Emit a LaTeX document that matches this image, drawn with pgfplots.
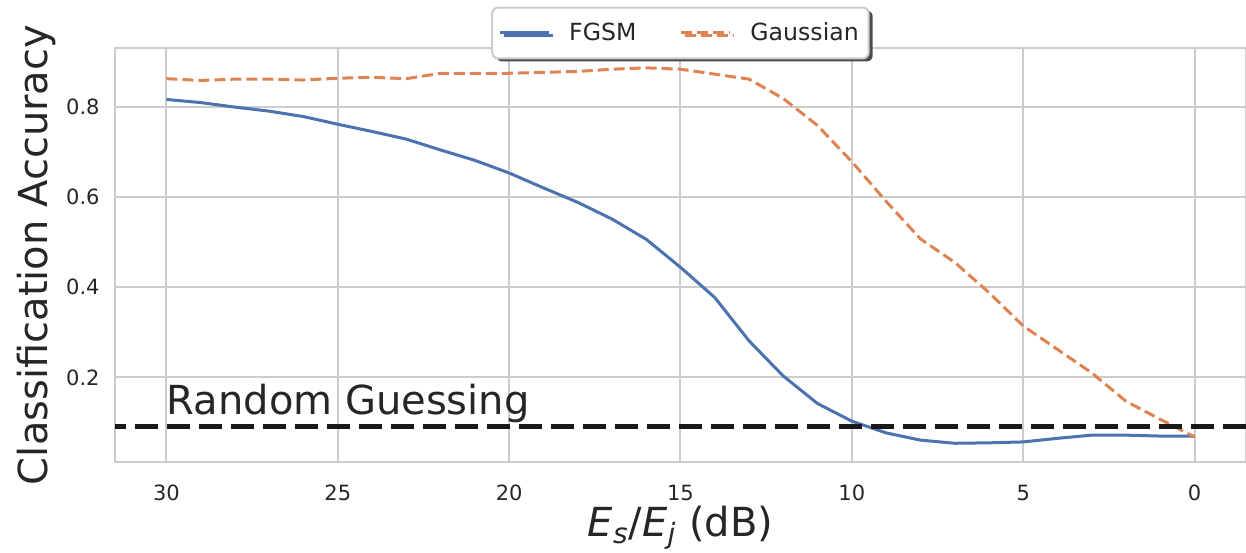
\documentclass[border=0pt]{standalone}
\usepackage{fontspec}
\setmainfont{DejaVu Sans}
\usepackage{pgfplots}
\usepackage{pgfplotstable}
\pgfplotsset{compat=1.18}
\usetikzlibrary{shadows,calc}

\definecolor{sbblue}{HTML}{4C72B0}
\definecolor{sborange}{HTML}{DD8452}
\definecolor{gridgray}{HTML}{CCCCCC}
\definecolor{txt}{HTML}{262626}

% accuracy vs. Es/Ej (dB)
\pgfplotstableread{
snr fgsm gauss
30 0.816 0.862
29 0.809 0.858
28 0.799 0.861
27 0.790 0.861
26 0.778 0.859
25 0.761 0.863
24 0.745 0.865
23 0.728 0.862
22 0.704 0.874
21 0.681 0.874
20 0.653 0.874
19 0.620 0.876
18 0.588 0.878
17 0.551 0.883
16 0.506 0.886
15 0.444 0.883
14 0.377 0.872
13 0.281 0.861
12 0.203 0.818
11 0.142 0.758
10 0.103 0.678
9 0.077 0.590
8 0.061 0.507
7 0.054 0.455
6 0.055 0.388
5 0.057 0.314
4 0.065 0.262
3 0.072 0.210
2 0.072 0.147
1 0.070 0.107
0 0.070 0.068
}\datatable

\begin{document}
\begin{tikzpicture}
\begin{axis}[
  scale only axis,
  width=565.5pt, height=207pt,
  x dir=reverse,
  xmin=-1.5, xmax=31.5,
  ymin=0.0125, ymax=0.930,
  xtick={0,5,10,15,20,25,30},
  ytick={0.2,0.4,0.6,0.8},
  yticklabel style={/pgf/number format/fixed, /pgf/number format/precision=1},
  /pgf/number format/assume math mode=true,
  major tick length=0pt,
  grid=major,
  major grid style={gridgray, line width=1pt},
  axis line style={gridgray, line width=1.25pt},
  tick label style={font=\fontsize{10.5}{12}\selectfont, text=txt, inner sep=0pt},
  xticklabel style={anchor=north, yshift=-11.5pt},
  yticklabel style={anchor=east, xshift=-7.5pt},
  xlabel={{\itshape E}\textsubscript{\itshape s}/{\itshape E}\textsubscript{\itshape j} (dB)},
  ylabel={Classification Accuracy},
  label style={font=\fontsize{20}{24}\selectfont, text=txt, inner sep=0pt},
  xlabel style={at={(axis description cs:0.5,0)}, anchor=north, yshift=-22pt},
  ylabel style={at={(axis description cs:-0.0517,0.5)}, anchor=south},
  legend columns=2,
  legend image code/.code={\draw[#1] (0pt,0pt) -- (24.5pt,0pt); \path (32pt,0pt);},
  legend style={
    at={(axis description cs:0.5,1)}, anchor=center, yshift=7.5pt,
    draw=gridgray, line width=1pt, fill=white, rounded corners=3pt,
    drop shadow={shadow xshift=2pt, shadow yshift=-1.5pt, fill=black!70, opacity=1},
    font=\fontsize{11.8}{14}\selectfont, text=txt,
    inner xsep=3pt, inner ysep=5.5pt,
    /tikz/every even column/.append style={column sep=19.5pt},
  },
  legend cell align=left,
]
\addplot[sbblue, line width=1.5pt] table[x=snr, y=fgsm] {\datatable};
\addlegendentry{FGSM}
\addplot[sborange, line width=1.5pt, dash pattern=on 5.5pt off 2.5pt] table[x=snr, y=gauss] {\datatable};
\addlegendentry{Gaussian}
% chance level for 11 classes
\addplot[black!90, line width=2.5pt, dash pattern=on 11.5pt off 4.5pt, forget plot]
  coordinates {(-1.5,0.0909) (31.5,0.0909)};
\node[anchor=base west, inner sep=0pt, font=\fontsize{20}{24}\selectfont, text=txt]
  at (axis cs:30,0.118) {Random Guessing};
\end{axis}
\pgfresetboundingbox
\path[use as bounding box] ($(current axis.south west)+(-57.5pt,-45pt)$) rectangle ($(current axis.north east)+(0pt,24pt)$);
\end{tikzpicture}
\end{document}
